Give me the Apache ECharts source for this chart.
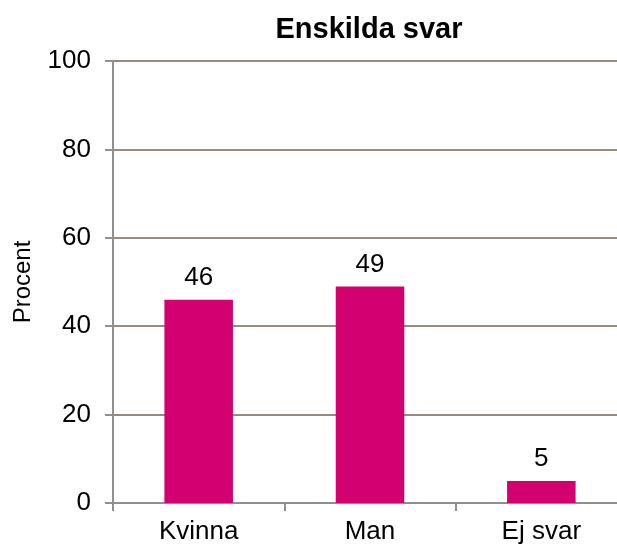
<!DOCTYPE html>
<html>
<head>
<meta charset="utf-8">
<script src="https://cdn.jsdelivr.net/npm/echarts@6/dist/echarts.min.js"></script>
<style>html,body{margin:0;padding:0;background:#fff;}#c{width:617px;height:551px;}</style>
</head>
<body>
<div id="c"></div>
<script>
const titleText = "Enskilda svar";
const categories = ["Kvinna", "Man", "Ej svar"];
const values = [46, 49, 5];
const yAxisName = "Procent";
const yMin = 0, yMax = 100, yInterval = 20;

const chart = echarts.init(document.getElementById('c'), null, {renderer: 'canvas'});
const font = "'Liberation Sans', Arial, sans-serif";
chart.setOption({
  animation: false,
  backgroundColor: '#ffffff',
  title: {
    text: titleText, left: 364, top: 10, textAlign: 'center',
    textStyle: {fontFamily: font, fontSize: 29, fontWeight: 'bold', color: '#000'}
  },
  grid: {left: 113, width: 514, top: 61, bottom: 48, containLabel: false, outerBoundsMode: 'none'},
  xAxis: {
    type: 'category', data: categories,
    axisLine: {lineStyle: {color: '#8f8f8f', width: 2}},
    axisTick: {show: true, length: 8, lineStyle: {color: '#8f8f8f', width: 2}},
    axisLabel: {fontFamily: font, fontSize: 26, color: '#000', margin: 16}
  },
  yAxis: {
    type: 'value', min: yMin, max: yMax, interval: yInterval,
    name: yAxisName, nameLocation: 'middle', nameGap: 78, nameRotate: 90,
    nameTextStyle: {fontFamily: font, fontSize: 24, color: '#000'},
    axisLine: {show: true, lineStyle: {color: '#8f8f8f', width: 2}},
    axisTick: {show: true, length: 8, lineStyle: {color: '#8f8f8f', width: 2}},
    axisLabel: {fontFamily: font, fontSize: 26, color: '#000', margin: 22},
    splitLine: {lineStyle: {color: '#968b7c', width: 2}}
  },
  series: [{
    type: 'bar', data: values, barWidth: '40%',
    itemStyle: {color: '#d20071'},
    label: {show: true, position: 'top', distance: 9, fontFamily: font, fontSize: 26, color: '#000'}
  }]
});
</script>
</body>
</html>
